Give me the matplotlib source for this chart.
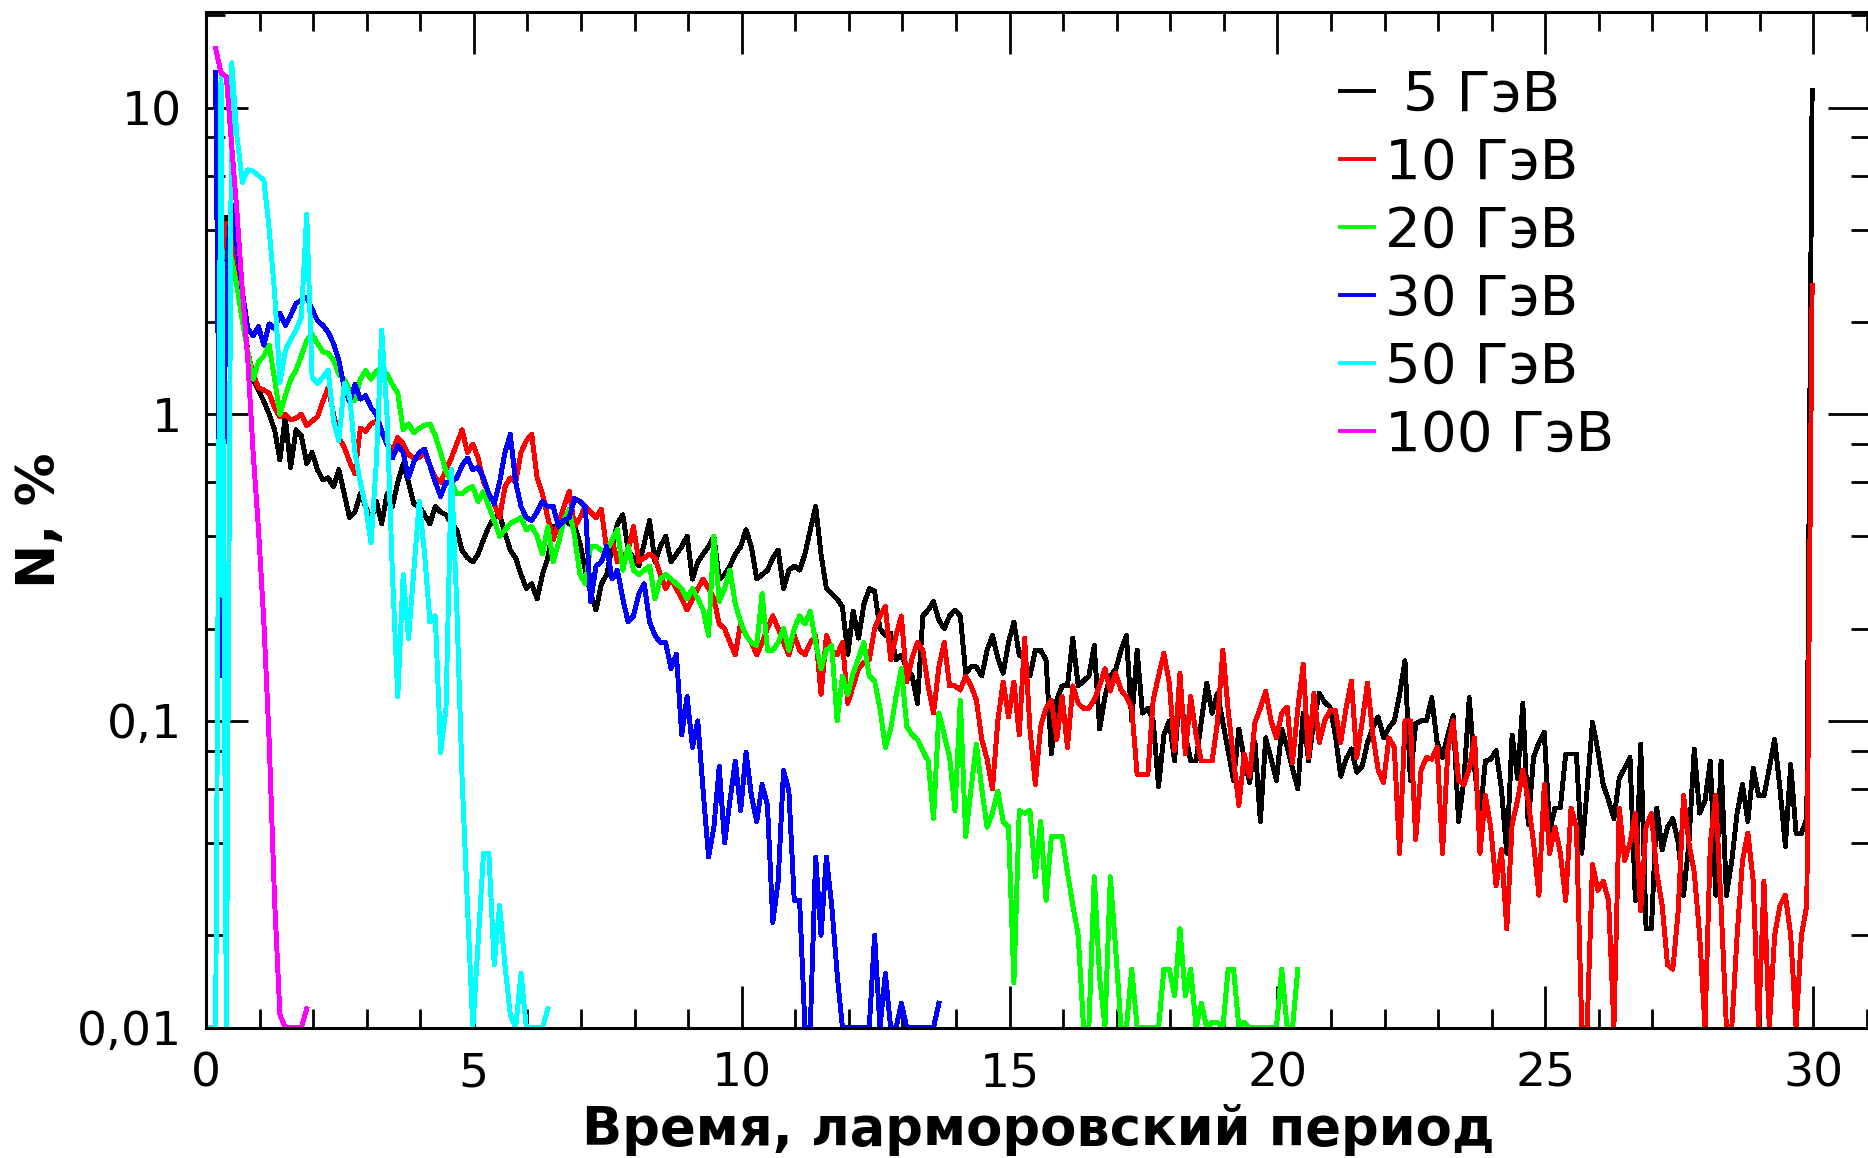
import numpy as np
import matplotlib
matplotlib.use('Agg')
import matplotlib.pyplot as plt
from matplotlib.ticker import LogLocator, MultipleLocator, FuncFormatter, NullFormatter

nan = np.nan

# время (интервалы по 0.1 ларморовского периода)
t = np.round(np.arange(300) * 0.1 + 0.08, 2)

# N, % для каждой энергии
e5 = [
    nan, nan, 0.15, 4.4, 4.0, 3.0, 2.2, 1.6, 1.3, 1.2,
    1.1, 1.0, 0.89, 0.71, 0.98, 0.67, 0.89, 0.85, 0.69, 0.75,
    0.66, 0.61, 0.62, 0.58, 0.66, 0.55, 0.46, 0.48, 0.55, 0.5,
    0.45, 0.52, 0.44, 0.55, 0.5, 0.6, 0.69, 0.6, 0.51, 0.5,
    0.47, 0.44, 0.5, 0.48, 0.47, 0.44, 0.42, 0.36, 0.34, 0.33,
    0.35, 0.39, 0.43, 0.46, 0.47, 0.41, 0.36, 0.34, 0.3, 0.27,
    0.28, 0.25, 0.3, 0.34, 0.43, 0.41, 0.45, 0.44, 0.43, 0.38,
    0.31, 0.26, 0.23, 0.28, 0.3, 0.37, 0.44, 0.47, 0.36, 0.34,
    0.32, 0.38, 0.45, 0.33, 0.37, 0.4, 0.33, 0.35, 0.37, 0.4,
    0.29, 0.33, 0.35, 0.37, 0.4, 0.29, 0.3, 0.32, 0.35, 0.37,
    0.42, 0.37, 0.29, 0.3, 0.31, 0.34, 0.36, 0.27, 0.31, 0.32,
    0.31, 0.35, 0.42, 0.5, 0.35, 0.27, 0.26, 0.25, 0.235, 0.165,
    0.228, 0.186, 0.24, 0.27, 0.265, 0.2, 0.19, 0.193, 0.158, 0.164,
    0.148, 0.14, 0.114, 0.22, 0.23, 0.245, 0.213, 0.2, 0.22, 0.23,
    0.22, 0.143, 0.15, 0.15, 0.14, 0.17, 0.19, 0.16, 0.143, 0.18,
    0.21, 0.164, 0.16, 0.14, 0.17, 0.17, 0.158, 0.078, 0.117, 0.13,
    0.13, 0.186, 0.13, 0.135, 0.14, 0.176, 0.094, 0.12, 0.14, 0.147,
    0.17, 0.19, 0.1, 0.17, 0.106, 0.11, 0.1, 0.061, 0.09, 0.1,
    0.074, 0.13, 0.09, 0.074, 0.074, 0.1, 0.133, 0.106, 0.123, 0.099,
    0.08, 0.064, 0.094, 0.075, 0.063, 0.085, 0.047, 0.088, 0.075, 0.064,
    0.094, 0.082, 0.07, 0.06, 0.106, 0.074, 0.1, 0.123, 0.115, 0.111,
    0.09, 0.066, 0.075, 0.081, 0.068, 0.071, 0.085, 0.095, 0.103, 0.088,
    0.095, 0.1, 0.122, 0.157, 0.064, 0.098, 0.1, 0.1, 0.119, 0.085,
    0.076, 0.09, 0.104, 0.047, 0.064, 0.119, 0.07, 0.048, 0.074, 0.075,
    0.08, 0.06, 0.037, 0.09, 0.065, 0.114, 0.046, 0.076, 0.085, 0.092,
    0.044, 0.052, 0.052, 0.078, 0.078, 0.078, 0.037, 0.06, 0.099, 0.08,
    0.062, 0.055, 0.048, 0.065, 0.07, 0.076, 0.026, 0.084, 0.021, 0.021,
    0.052, 0.038, 0.045, 0.048, 0.04, 0.027, 0.04, 0.081, 0.05, 0.055,
    0.074, 0.027, 0.074, 0.027, 0.035, 0.05, 0.062, 0.047, 0.07, 0.057,
    0.057, 0.07, 0.087, 0.06, 0.039, 0.072, 0.043, 0.043, 0.048, 11.4,
]

e10 = [
    nan, nan, 0.2, 4.2, 3.6, 2.8, 2.1, 1.6, 1.35, 1.22,
    1.2, 1.17, 1.05, 0.98, 1.0, 0.96, 0.97, 1.0, 0.92, 0.95,
    0.98, 1.1, 1.22, 1.0, 0.84, 0.78, 0.7, 0.64, 0.9, 0.88,
    0.93, 0.95, 0.87, 0.8, 0.76, 0.84, 0.8, 0.74, 0.72, 0.72,
    0.75, 0.68, 0.62, 0.6, 0.66, 0.72, 0.8, 0.89, 0.75, 0.8,
    0.72, 0.6, 0.55, 0.51, 0.46, 0.58, 0.62, 0.6, 0.75, 0.82,
    0.86, 0.62, 0.55, 0.46, 0.39, 0.44, 0.5, 0.56, 0.43, 0.46,
    0.5, 0.48, 0.46, 0.49, 0.36, 0.39, 0.33, 0.34, 0.36, 0.43,
    0.33, 0.34, 0.35, 0.34, 0.3, 0.27, 0.29, 0.27, 0.25, 0.23,
    0.25, 0.27, 0.29, 0.27, 0.25, 0.207, 0.2, 0.18, 0.164, 0.21,
    0.19, 0.18, 0.164, 0.18, 0.2, 0.22, 0.2, 0.18, 0.164, 0.19,
    0.17, 0.164, 0.18, 0.19, 0.122, 0.19, 0.17, 0.164, 0.18, 0.114,
    0.13, 0.148, 0.155, 0.158, 0.2, 0.22, 0.236, 0.158, 0.19, 0.22,
    0.134, 0.16, 0.18, 0.17, 0.13, 0.106, 0.15, 0.18, 0.13, 0.13,
    0.126, 0.14, 0.13, 0.117, 0.087, 0.075, 0.06, 0.1, 0.134, 0.103,
    0.134, 0.09, 0.186, 0.094, 0.062, 0.096, 0.11, 0.117, 0.087, 0.12,
    0.082, 0.13, 0.114, 0.11, 0.11, 0.117, 0.13, 0.148, 0.125, 0.143,
    0.126, 0.12, 0.11, 0.067, 0.067, 0.067, 0.117, 0.14, 0.166, 0.133,
    0.08, 0.143, 0.078, 0.12, 0.09, 0.074, 0.074, 0.074, 0.099, 0.17,
    0.108, 0.075, 0.053, 0.078, 0.066, 0.099, 0.11, 0.125, 0.1, 0.088,
    0.106, 0.111, 0.073, 0.11, 0.153, 0.076, 0.123, 0.085, 0.1, 0.108,
    0.108, 0.085, 0.11, 0.135, 0.076, 0.099, 0.133, 0.09, 0.069, 0.063,
    0.088, 0.082, 0.037, 0.1, 0.1, 0.041, 0.069, 0.076, 0.075, 0.082,
    0.037, 0.08, 0.1, 0.064, 0.062, 0.07, 0.088, 0.037, 0.057, 0.045,
    0.029, 0.038, 0.021, 0.046, 0.055, 0.069, 0.055, 0.04, 0.027, 0.062,
    0.037, 0.045, 0.037, 0.026, 0.052, 0.045, 0.01, 0.01, 0.034, 0.028,
    0.03, 0.026, 0.01, 0.052, 0.035, 0.04, 0.05, 0.024, 0.045, 0.05,
    0.032, 0.025, 0.016, 0.0155, 0.024, 0.057, 0.04, 0.032, 0.02, 0.01,
    0.04, 0.057, 0.025, 0.01, 0.01, 0.02, 0.035, 0.043, 0.03, 0.01,
    0.03, 0.01, 0.02, 0.025, 0.027, 0.02, 0.01, 0.02, 0.025, 2.63,
]

e20 = [
    nan, nan, 0.17, 3.4, 3.2, 2.6, 2.0, 1.6, 1.3, 1.48,
    1.55, 1.68, 1.3, 1.0, 1.15, 1.3, 1.39, 1.55, 1.74, 1.83,
    1.7, 1.6, 1.58, 1.5, 1.35, 1.3, 1.2, 1.11, 1.3, 1.39,
    1.3, 1.38, 1.42, 1.35, 1.25, 1.17, 0.89, 0.93, 0.87, 0.9,
    0.92, 0.93, 0.85, 0.75, 0.65, 0.6, 0.55, 0.55, 0.57, 0.58,
    0.52, 0.56, 0.5, 0.45, 0.4, 0.42, 0.44, 0.45, 0.46, 0.42,
    0.43, 0.4, 0.35, 0.43, 0.33, 0.38, 0.45, 0.49, 0.4, 0.3,
    0.28, 0.37, 0.37, 0.36, 0.36, 0.39, 0.42, 0.31, 0.37, 0.31,
    0.3, 0.31, 0.32, 0.25, 0.29, 0.3, 0.29, 0.28, 0.27, 0.25,
    0.27, 0.25, 0.23, 0.19, 0.4, 0.245, 0.27, 0.31, 0.24, 0.21,
    0.19, 0.18, 0.176, 0.26, 0.17, 0.17, 0.18, 0.2, 0.17, 0.2,
    0.22, 0.207, 0.228, 0.18, 0.148, 0.17, 0.176, 0.1, 0.14, 0.122,
    0.143, 0.16, 0.18, 0.14, 0.135, 0.11, 0.082, 0.094, 0.12, 0.148,
    0.096, 0.09, 0.087, 0.08, 0.074, 0.048, 0.106, 0.09, 0.076, 0.051,
    0.117, 0.042, 0.06, 0.084, 0.06, 0.045, 0.05, 0.059, 0.047, 0.045,
    0.014, 0.051, 0.05, 0.051, 0.031, 0.047, 0.026, 0.042, 0.042, 0.042,
    0.032, 0.025, 0.02, 0.01, 0.01, 0.031, 0.0146, 0.01, 0.031, 0.018,
    0.01, 0.01, 0.0155, 0.01, 0.01, 0.01, 0.01, 0.01, 0.0155, 0.0155,
    0.0127, 0.021, 0.0127, 0.0155, 0.01, 0.012, 0.01, 0.0104, 0.0104, 0.01,
    0.0155, 0.0155, 0.01, 0.0104, 0.01, 0.01, 0.01, 0.01, 0.01, 0.01,
    0.0155, 0.01, 0.01, 0.0155,
]

e30 = [
    nan, 13.0, 0.14, 3.0, 4.8, 3.5, 2.5, 1.9, 1.8, 1.93,
    1.68, 1.97, 1.9, 2.13, 1.95, 2.1, 2.3, 2.35, 2.41, 2.2,
    2.02, 1.95, 1.85, 1.7, 1.5, 1.22, 1.1, 1.25, 1.12, 1.15,
    1.05, 1.0, 0.88, 0.8, 0.72, 0.79, 0.75, 0.62, 0.7, 0.75,
    0.77, 0.68, 0.6, 0.54, 0.6, 0.6, 0.62, 0.68, 0.72, 0.66,
    0.67, 0.62, 0.55, 0.51, 0.6, 0.75, 0.86, 0.6, 0.5, 0.46,
    0.45, 0.48, 0.52, 0.5, 0.5, 0.43, 0.45, 0.46, 0.53, 0.52,
    0.5, 0.245, 0.32, 0.33, 0.37, 0.29, 0.31, 0.25, 0.21, 0.22,
    0.26, 0.28, 0.21, 0.19, 0.18, 0.18, 0.148, 0.165, 0.09, 0.12,
    0.082, 0.1, 0.059, 0.036, 0.045, 0.071, 0.04, 0.055, 0.074, 0.051,
    0.079, 0.057, 0.047, 0.062, 0.053, 0.022, 0.03, 0.069, 0.059, 0.026,
    0.026, 0.01, 0.01, 0.036, 0.02, 0.036, 0.025, 0.015, 0.01, 0.01,
    0.01, 0.01, 0.01, 0.01, 0.02, 0.01, 0.015, 0.01, 0.01, 0.012,
    0.01, 0.01, 0.01, 0.01, 0.01, 0.01, 0.012,
]

e50 = [
    0.01, 0.01, 13.0, 0.01, 14.0, 8.0, 5.7, 6.27, 6.2, 6.0,
    5.8, 4.0, 2.5, 1.27, 1.61, 1.75, 1.88, 2.07, 4.5, 1.32,
    1.26, 1.32, 1.39, 0.95, 0.82, 1.26, 1.15, 0.75, 0.6, 0.5,
    0.38, 0.7, 1.88, 0.98, 0.3, 0.12, 0.3, 0.186, 0.31, 0.52,
    0.35, 0.21, 0.22, 0.079, 0.11, 0.66, 0.24, 0.065, 0.025, 0.01,
    0.019, 0.037, 0.037, 0.016, 0.025, 0.016, 0.011, 0.01, 0.015, 0.01,
    0.01, 0.01, 0.01, 0.0115,
]

e100 = [
    nan, 15.6, 13.0, 12.6, 7.5, 4.5, 2.5, 1.5, 0.75, 0.42,
    0.21, 0.085, 0.026, 0.011, 0.01, 0.01, 0.01, 0.01, 0.0115,
]

series = [e5, e10, e20, e30, e50, e100]
labels = [' 5 ГэВ', '10 ГэВ', '20 ГэВ', '30 ГэВ', '50 ГэВ', '100 ГэВ']
colors = ['#000000', '#ff0000', '#00ff00', '#0000ff', '#00ffff', '#ff00ff']

fig = plt.figure(figsize=(18.68, 11.58), dpi=100)
ax = fig.add_axes([206 / 1868, 1 - 1027.5 / 1158, 1664 / 1868, 1015.5 / 1158])

for vals, lab, col in zip(series, labels, colors):
    ax.plot(t[:len(vals)], vals, color=col, lw=2.8, label=lab,
            antialiased=False)

ax.set_yscale('log')
ax.set_xlim(0, 31.06)
ax.set_ylim(0.01, 20.5)

ax.xaxis.set_major_locator(MultipleLocator(5))
ax.xaxis.set_minor_locator(MultipleLocator(1))
ax.yaxis.set_major_locator(LogLocator(base=10))
ax.yaxis.set_minor_locator(LogLocator(base=10, subs=(2, 4, 6, 8)))
ax.yaxis.set_minor_formatter(NullFormatter())
ax.yaxis.set_major_formatter(FuncFormatter(lambda v, p: f'{v:g}'.replace('.', ',')))

ax.tick_params(which='both', direction='in', top=True, right=True,
               width=2, labelsize=34)
ax.tick_params(which='major', length=30)
ax.tick_params(which='minor', length=14)
ax.tick_params(axis='x', pad=17)
ax.tick_params(axis='y', pad=17)
for s in ax.spines.values():
    s.set_linewidth(2.2)

ax.set_xlabel('Время, ларморовский период', fontsize=38, fontweight='bold',
              labelpad=6)
ax.set_ylabel('N, %', fontsize=38, fontweight='bold', labelpad=8)

ax.legend(loc='upper left', bbox_to_anchor=(1340 / 1868, 0.941),
          bbox_transform=fig.transFigure, frameon=False, fontsize=40.5,
          handlelength=0.6, handletextpad=0.2, labelspacing=0.25,
          borderpad=0, borderaxespad=0)

fig.savefig('out.png', dpi=100)
